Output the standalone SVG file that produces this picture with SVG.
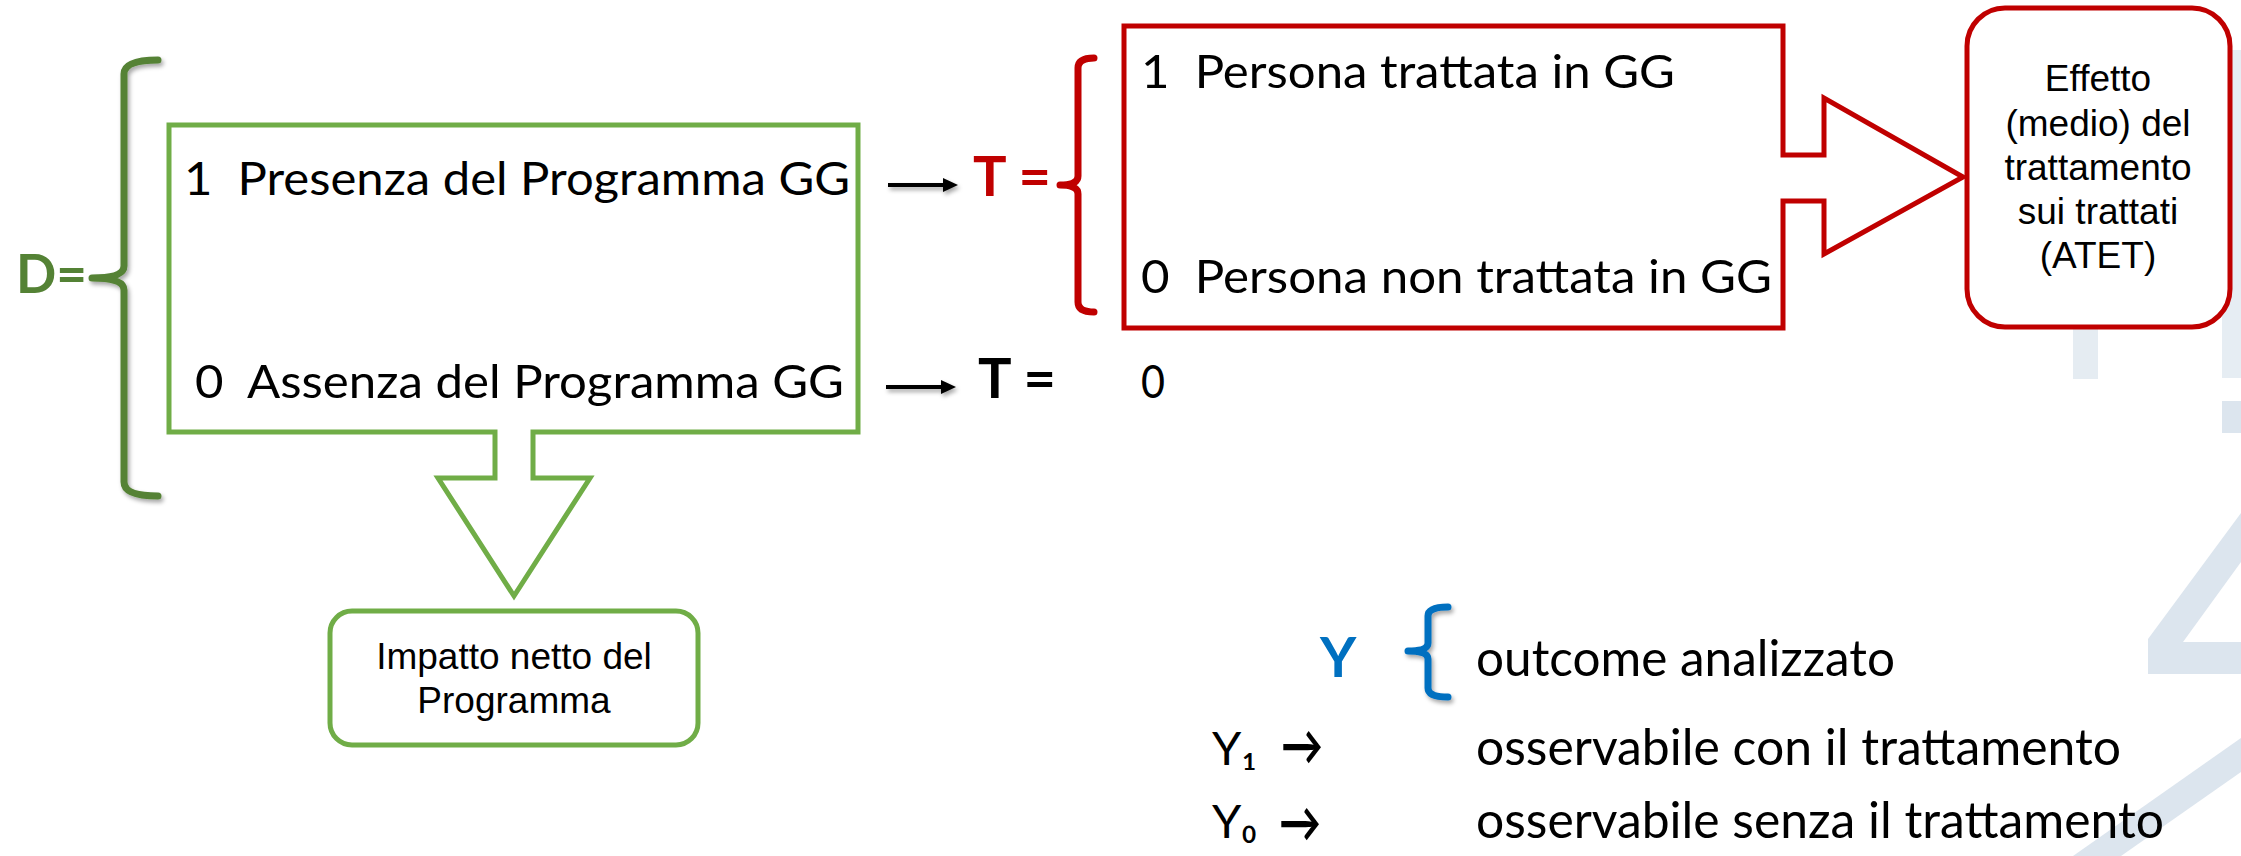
<svg xmlns="http://www.w3.org/2000/svg" width="2241" height="856" viewBox="0 0 2241 856">
<style>
.cal{font-family:Lato,"Open Sans","Liberation Sans",sans-serif;fill:#000}
.calb{font-family:Lato,"Open Sans","Liberation Sans",sans-serif;font-weight:bold}
.ar{font-family:"Liberation Sans",Arial,sans-serif;font-size:37px;fill:#000;text-anchor:middle}
.gbox{fill:#fff;stroke:#70AD47;stroke-width:5;stroke-linejoin:miter}
.rbox{fill:#fff;stroke:#C00000;stroke-width:5;stroke-linejoin:miter}
.brace{fill:none;stroke-width:7;stroke-linecap:round;stroke-linejoin:round}
.wm{fill:#DCE5EE}
.conn{stroke:#000;stroke-width:4;fill:none}
.arrw{font-family:Lato,"DejaVu Sans",sans-serif;font-weight:bold;fill:#000;font-size:55px}
</style>
<defs>
<filter id="sh" filterUnits="userSpaceOnUse" x="0" y="0" width="2241" height="856">
<feDropShadow dx="2" dy="3" stdDeviation="2" flood-color="#000" flood-opacity="0.35"/>
</filter>
</defs>
<rect width="2241" height="856" fill="#fff"/>
<g id="watermark">
<rect x="2073" y="300" width="25" height="79" class="wm" fill-opacity="0.75"/>
<rect x="2222" y="50" width="19" height="328" class="wm" fill-opacity="0.7"/>
<rect x="2222" y="401" width="19" height="32" class="wm"/>
<polygon points="2241,513 2148,639 2148,674 2241,674 2241,642 2183,642 2241,562" class="wm"/>
<polygon points="2073,856 2241,738 2241,772 2121,856" class="wm"/>
</g>
<g id="connectors" filter="url(#sh)">
<line x1="888" y1="185" x2="945" y2="185" class="conn"/>
<polygon points="943,178 958,185 943,192" fill="#000"/>
<line x1="886" y1="387" x2="943" y2="387" class="conn"/>
<polygon points="941,380 956,387 941,394" fill="#000"/>
</g>
<g id="d-label">
<text x="16" y="293" class="calb" font-size="53" fill="#548235">D=</text>
<path class="brace" stroke="#548235" filter="url(#sh)" d="M158,60 Q124,60 124,74 L124,266 Q124,278 92,278 Q124,278 124,290 L124,482 Q124,496 158,496"/>
</g>
<g id="node-programma">
<polygon class="gbox" points="169,125 858,125 858,432 533,432 533,478 590,478 514,596 438,478 495,478 495,432 169,432"/>
<text x="184" y="195" class="cal" font-size="47" textLength="666" lengthAdjust="spacingAndGlyphs" xml:space="preserve">1  Presenza del Programma GG</text>
<text x="195" y="398" class="cal" font-size="47" textLength="649" lengthAdjust="spacingAndGlyphs" xml:space="preserve">0  Assenza del Programma GG</text>
</g>
<g id="node-impatto">
<rect x="330" y="611" width="368" height="134" rx="22" ry="22" class="gbox"/>
<text x="514" y="669" class="ar">Impatto netto del</text>
<text x="514" y="713" class="ar">Programma</text>
</g>
<g id="t-label-1">
<text x="973" y="196" class="calb" font-size="56" fill="#C00000" xml:space="preserve">T =</text>
<path class="brace" stroke="#C00000" d="M1094,58 Q1078,58 1078,68 L1078,176 Q1078,185 1060,185 Q1078,185 1078,194 L1078,302 Q1078,312 1094,312"/>
</g>
<g id="node-trattata">
<polygon class="rbox" points="1124,26 1783,26 1783,155 1824,155 1824,98 1963,177 1824,254 1824,201 1783,201 1783,328 1124,328"/>
<text x="1141" y="88" class="cal" font-size="47" textLength="534" lengthAdjust="spacingAndGlyphs" xml:space="preserve">1  Persona trattata in GG</text>
<text x="1141" y="293" class="cal" font-size="47" textLength="631" lengthAdjust="spacingAndGlyphs" xml:space="preserve">0  Persona non trattata in GG</text>
</g>
<g id="t-label-0">
<text x="978" y="398" class="calb" font-size="56" fill="#000" xml:space="preserve">T =</text>
<text x="1141" y="398" class="cal" font-size="47" textLength="24" lengthAdjust="spacingAndGlyphs">0</text>
</g>
<g id="node-atet">
<rect x="1967" y="8" width="263" height="319" rx="38" ry="38" class="rbox"/>
<text x="2098" y="91" class="ar">Effetto</text>
<text x="2098" y="136" class="ar">(medio) del</text>
<text x="2098" y="180" class="ar">trattamento</text>
<text x="2098" y="224" class="ar">sui trattati</text>
<text x="2098" y="268" class="ar">(ATET)</text>
</g>
<g id="legend">
<text x="1320" y="677" class="calb" font-size="56" fill="#0070C0">Y</text>
<path class="brace" stroke="#0070C0" stroke-width="8" filter="url(#sh)" d="M1448,607 Q1428,607 1428,616 L1428,643 Q1428,651 1408,651 Q1428,651 1428,659 L1428,688 Q1428,697 1448,697"/>
<text x="1476" y="676" class="cal" font-size="51" textLength="419" lengthAdjust="spacingAndGlyphs">outcome analizzato</text>
<text x="1212" y="765" class="cal" font-size="47">Y₁</text>
<text x="1281" y="765" class="arrw" textLength="42" lengthAdjust="spacingAndGlyphs">→</text>
<text x="1476" y="765" class="cal" font-size="51" textLength="645" lengthAdjust="spacingAndGlyphs">osservabile con il trattamento</text>
<text x="1212" y="838" class="cal" font-size="47">Y₀</text>
<text x="1279" y="842" class="arrw" textLength="42" lengthAdjust="spacingAndGlyphs">→</text>
<text x="1476" y="838" class="cal" font-size="51" textLength="688" lengthAdjust="spacingAndGlyphs">osservabile senza il trattamento</text>
</g>
</svg>
